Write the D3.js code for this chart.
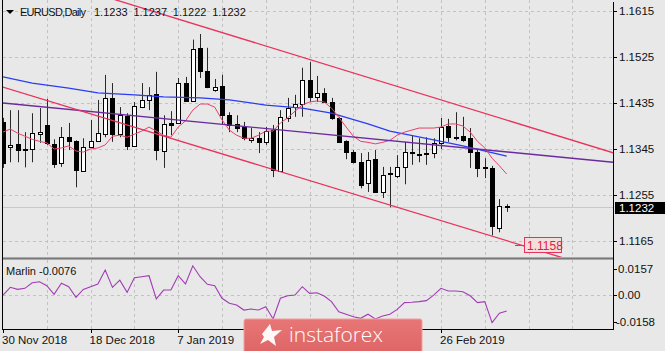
<!DOCTYPE html>
<html>
<head>
<meta charset="utf-8">
<script src="https://cdn.jsdelivr.net/npm/d3@7"></script>
<style>
  body { margin: 0; background: #e8e8e8; }
  svg { display: block; font-family: "Liberation Sans", Arial, sans-serif; }
</style>
</head>
<body>
<svg id="chart" width="665" height="351"></svg>
<script>
// header / labels
const symbolTitle = "EURUSD,Daily";
const lastQuote = ["1.1233", "1.1237", "1.1222", "1.1232"];
const marlinTitle = "Marlin -0.0076";
const priceTicks = [1.1615, 1.1525, 1.1435, 1.1345, 1.1255, 1.1165];
const marlinTicks = [0.0157, 0.0, -0.0158];
const marlinTickLabels = ["0.0157", "0.00", "-0.0158"];
const dateTickBars = [0, 12, 24, 60];
const dateTickLabels = ["30 Nov 2018", "18 Dec 2018", "7 Jan 2019", "26 Feb 2019"];
const currentPrice = 1.1232;
const channelLabel = 1.1158;

// daily candles, 30 Nov 2018 .. 11 Mar 2019
const openP = [1.1398,1.1349,1.1355,1.1345,1.1345,1.1376,1.1392,1.1355,1.1318,1.1368,
  1.1360,1.1302,1.1349,1.1360,1.1374,1.1445,1.1374,1.1409,1.1351,1.1427,
  1.1441,1.1453,1.1341,1.1395,1.1396,1.1474,1.1439,1.1543,1.1498,1.1460,
  1.1468,1.1411,1.1394,1.1388,1.1362,1.1366,1.1358,1.1382,1.1302,1.1405,
  1.1427,1.1433,1.1480,1.1447,1.1455,1.1437,1.1406,1.1360,1.1339,1.1319,
  1.1278,1.1325,1.1261,1.1296,1.1292,1.1310,1.1340,1.1336,1.1335,1.1337,
  1.1357,1.1390,1.1369,1.1370,1.1366,1.1339,1.1309,1.1308,1.1190,1.1233];
const highP = [1.1406,1.1421,1.1421,1.1378,1.1415,1.1425,1.1443,1.1364,1.1388,1.1396,
  1.1362,1.1366,1.1402,1.1441,1.1490,1.1474,1.1427,1.1415,1.1437,1.1474,
  1.1466,1.1496,1.1411,1.1419,1.1484,1.1486,1.1559,1.1570,1.1543,1.1482,
  1.1490,1.1417,1.1411,1.1398,1.1386,1.1378,1.1388,1.1392,1.1421,1.1445,
  1.1451,1.1504,1.1515,1.1488,1.1464,1.1445,1.1408,1.1362,1.1343,1.1337,
  1.1339,1.1343,1.1310,1.1310,1.1333,1.1359,1.1372,1.1366,1.1368,1.1366,
  1.1406,1.1404,1.1417,1.1408,1.1386,1.1343,1.1327,1.1312,1.1247,1.1237];
const lowP = [1.1308,1.1319,1.1319,1.1309,1.1319,1.1357,1.1353,1.1308,1.1310,1.1343,
  1.1270,1.1300,1.1347,1.1359,1.1368,1.1359,1.1368,1.1343,1.1349,1.1425,
  1.1421,1.1323,1.1308,1.1372,1.1394,1.1437,1.1437,1.1484,1.1464,1.1457,
  1.1392,1.1378,1.1378,1.1362,1.1357,1.1337,1.1353,1.1290,1.1300,1.1398,
  1.1408,1.1408,1.1437,1.1437,1.1436,1.1402,1.1359,1.1325,1.1317,1.1268,
  1.1261,1.1259,1.1249,1.1231,1.1288,1.1276,1.1314,1.1319,1.1314,1.1327,
  1.1345,1.1359,1.1362,1.1359,1.1308,1.1290,1.1288,1.1176,1.1182,1.1222];
const closeP = [1.1317,1.1353,1.1343,1.1343,1.1376,1.1379,1.1357,1.1316,1.1368,1.1360,
  1.1304,1.1349,1.1360,1.1376,1.1445,1.1374,1.1411,1.1351,1.1429,1.1441,
  1.1451,1.1343,1.1394,1.1392,1.1474,1.1439,1.1541,1.1498,1.1466,1.1466,
  1.1411,1.1392,1.1386,1.1366,1.1366,1.1358,1.1380,1.1304,1.1408,1.1425,
  1.1433,1.1480,1.1447,1.1455,1.1437,1.1406,1.1360,1.1339,1.1319,1.1274,
  1.1323,1.1261,1.1294,1.1298,1.1310,1.1339,1.1338,1.1335,1.1337,1.1357,
  1.1388,1.1368,1.1367,1.1362,1.1339,1.1308,1.1307,1.1194,1.1233,1.1232];

// fast moving average (red)
const fastMA = [1.1378,1.1384,1.1376,1.1370,1.1364,1.1360,1.1357,1.1345,1.1347,1.1351,
  1.1341,1.1339,1.1345,1.1347,1.1353,1.1370,1.1372,1.1368,1.1374,1.1380,
  1.1388,1.1380,1.1372,1.1368,1.1388,1.1400,1.1421,1.1433,1.1433,1.1427,
  1.1402,1.1382,1.1372,1.1366,1.1366,1.1372,1.1380,1.1380,1.1396,1.1406,
  1.1419,1.1431,1.1437,1.1439,1.1437,1.1425,1.1407,1.1388,1.1370,1.1360,
  1.1358,1.1355,1.1358,1.1362,1.1372,1.1378,1.1382,1.1386,1.1386,1.1386,
  1.1388,1.1394,1.1394,1.1390,1.1378,1.1360,1.1347,1.1327,1.1312,1.1296];

// slow moving average (blue), read at these bars
const slowMABars = [0, 4, 9, 13, 18, 22, 27, 31, 36, 41, 45, 50, 53, 59, 63, 69];
const slowMA = [1.1486,1.1474,1.1464,1.1455,1.1451,1.1447,1.1445,1.1441,1.1431,1.1425,
  1.1415,1.1394,1.1380,1.1363,1.1351,1.1331];

// trend lines: [bar, price] pairs
const purpleLine = [[0, 1.1435], [83.6, 1.1319]];
const channelUpper = [[27, 1.1586], [68, 1.1406]];
const channelLower = [[0, 1.1466], [68, 1.1170]];

// Marlin oscillator
const marlin = [0.0002,0.0048,0.0036,0.0042,0.0075,0.0081,0.0058,0.0007,0.0072,0.0052,
  -0.0011,0.0036,0.0052,0.0068,0.0151,0.0048,0.0091,0.0018,0.0105,0.0111,
  0.0117,-0.0021,0.0032,0.0032,0.0117,0.0068,0.0176,0.0111,0.0066,0.0058,
  -0.0017,-0.0047,-0.0057,-0.0087,-0.0081,-0.0087,-0.0067,-0.0140,-0.0017,-0.0002,
  0.0002,0.0052,0.0012,0.0016,-0.0004,-0.0037,-0.0097,-0.0112,-0.0127,-0.0136,
  -0.0112,-0.0140,-0.0122,-0.0112,-0.0083,-0.0043,-0.0041,-0.0037,-0.0031,0.0002,
  0.0042,0.0026,0.0026,0.0022,-0.0002,-0.0043,-0.0037,-0.0162,-0.0106,-0.0093];

const left = 3, right = 613, mainBottom = 258, subTop = 260, subBottom = 329;

const svg = d3.select("#chart");

const x = d3.scaleLinear().domain([0, 69]).range([3, 506.7]);
const y = d3.scaleLinear().domain([1.1165, 1.1615]).range([241, 11]);
const ySub = d3.scaleLinear().domain([-0.0158, 0.0157]).range([322, 269]);
const crisp = v => Math.round(v) + 0.5;

svg.append("rect").attr("width", 665).attr("height", 351).attr("fill", "#e8e8e8");

svg.append("defs").append("clipPath").attr("id", "mainClip")
  .append("rect").attr("x", left).attr("y", 0).attr("width", right - left).attr("height", mainBottom);

// grid
const grid = svg.append("g").attr("stroke", "#c2c2c2").attr("stroke-dasharray", "3,3");
d3.range(6, 84, 6).forEach(b => {
  grid.append("line").attr("x1", crisp(x(b))).attr("x2", crisp(x(b))).attr("y1", 0).attr("y2", mainBottom);
  grid.append("line").attr("x1", crisp(x(b))).attr("x2", crisp(x(b))).attr("y1", subTop).attr("y2", subBottom);
});
priceTicks.forEach(p => {
  grid.append("line").attr("x1", left).attr("x2", right).attr("y1", crisp(y(p))).attr("y2", crisp(y(p)));
});
grid.append("line").attr("x1", left).attr("x2", right).attr("y1", crisp(ySub(0))).attr("y2", crisp(ySub(0)));

// current price line
svg.append("line").attr("x1", left).attr("x2", right)
  .attr("y1", crisp(y(currentPrice))).attr("y2", crisp(y(currentPrice)))
  .attr("stroke", "#c8c8c8");

const main = svg.append("g").attr("clip-path", "url(#mainClip)");

// candles
const candles = openP.map((o, i) => ({ i, o, h: highP[i], l: lowP[i], c: closeP[i] }));
const cg = main.selectAll(".candle").data(candles).enter().append("g").attr("class", "candle");
cg.append("line")
  .attr("x1", d => crisp(x(d.i))).attr("x2", d => crisp(x(d.i)))
  .attr("y1", d => y(d.h)).attr("y2", d => y(d.l))
  .attr("stroke", "#2a2a2a");
cg.append("rect")
  .attr("x", d => Math.round(x(d.i)) - 2 + 0.5)
  .attr("width", 4)
  .attr("y", d => Math.round(y(Math.max(d.o, d.c))) + 0.5)
  .attr("height", d => Math.max(Math.round(Math.abs(y(d.o) - y(d.c))), 0))
  .attr("fill", d => d.c >= d.o ? "#ffffff" : "#000000")
  .attr("stroke", "#000");

// moving averages
main.append("path").datum(slowMA)
  .attr("fill", "none").attr("stroke", "#2b3cf5").attr("stroke-width", 1.3)
  .attr("d", d3.line().x((d, k) => x(slowMABars[k])).y(d => y(d)));
main.append("path").datum(fastMA)
  .attr("fill", "none").attr("stroke", "#e8406a").attr("stroke-width", 1)
  .attr("d", d3.line().x((d, i) => x(i)).y(d => y(d)));

// trend lines, extended across the panel
const extend = (pts, b0, b1) => {
  const slope = (pts[1][1] - pts[0][1]) / (pts[1][0] - pts[0][0]);
  return [[b0, pts[0][1] + slope * (b0 - pts[0][0])], [b1, pts[0][1] + slope * (b1 - pts[0][0])]];
};
const seg = d3.line().x(d => x(d[0])).y(d => y(d[1]));
main.append("path").attr("d", seg(purpleLine))
  .attr("fill", "none").attr("stroke", "#6b2a9e").attr("stroke-width", 1.4);
[channelUpper, channelLower].forEach(ch => {
  main.append("path").attr("d", seg(extend(ch, -1, 84)))
    .attr("fill", "none").attr("stroke", "#e8325c").attr("stroke-width", 1.3);
});

// 1.1158 marker
const lblY = y(channelLabel);
svg.append("line").attr("x1", 515).attr("x2", 524).attr("y1", crisp(lblY)).attr("y2", crisp(lblY))
  .attr("stroke", "#e8325c");
svg.append("rect").attr("x", 524.5).attr("y", Math.round(lblY) - 7.5).attr("width", 37).attr("height", 15)
  .attr("fill", "#f3dede").attr("stroke", "#e8325c");
svg.append("text").attr("x", 527).attr("y", Math.round(lblY) + 4.5)
  .attr("font-size", 12).attr("fill", "#e0203c").text(channelLabel.toFixed(4));

// frame
svg.append("line").attr("x1", 2.5).attr("x2", 2.5).attr("y1", 0).attr("y2", subBottom).attr("stroke", "#000");
svg.append("line").attr("x1", right + 0.5).attr("x2", right + 0.5).attr("y1", 2).attr("y2", subBottom + 1).attr("stroke", "#000");
svg.append("rect").attr("x", left).attr("y", 257).attr("width", right - left).attr("height", 3).attr("fill", "#a8a8a8");
svg.append("line").attr("x1", left).attr("x2", right).attr("y1", 258.5).attr("y2", 258.5).attr("stroke", "#7a7a7a");
svg.append("line").attr("x1", 2).attr("x2", right + 1).attr("y1", subBottom + 0.5).attr("y2", subBottom + 0.5).attr("stroke", "#000");

// right price axis
const axisG = svg.append("g").attr("font-size", 11.5).attr("fill", "#111");
priceTicks.forEach(p => {
  axisG.append("line").attr("x1", right).attr("x2", right + 4)
    .attr("y1", crisp(y(p))).attr("y2", crisp(y(p))).attr("stroke", "#000");
  axisG.append("text").attr("x", 619).attr("y", y(p) + 4).text(p.toFixed(4));
});
marlinTicks.forEach((v, k) => {
  axisG.append("line").attr("x1", right).attr("x2", right + 4)
    .attr("y1", crisp(ySub(v))).attr("y2", crisp(ySub(v))).attr("stroke", "#000");
  axisG.append("text").attr("x", v < 0 ? 616 : 618).attr("y", ySub(v) + 4).text(marlinTickLabels[k]);
});

// current price tag
svg.append("rect").attr("x", 615).attr("y", Math.round(y(currentPrice)) - 5).attr("width", 50).attr("height", 12)
  .attr("fill", "#000");
svg.append("text").attr("x", 619).attr("y", y(currentPrice) + 5)
  .attr("font-size", 11.5).attr("fill", "#fff").text(currentPrice.toFixed(4));

// Marlin sub window
svg.append("path").datum(marlin)
  .attr("fill", "none").attr("stroke", "#a23cb4").attr("stroke-width", 1.1)
  .attr("d", d3.line().x((d, i) => x(i)).y(d => ySub(d)));
svg.append("text").attr("x", 6).attr("y", 275).attr("font-size", 11).attr("fill", "#111").text(marlinTitle);

// title
svg.append("path").attr("d", "M6,10 L14,10 L10,14 Z").attr("fill", "#000");
const titleG = svg.append("g").attr("font-size", 11).attr("fill", "#111");
titleG.append("text").attr("x", 20).attr("y", 16).attr("textLength", 66).text(symbolTitle);
lastQuote.forEach((q, k) => titleG.append("text").attr("x", 94 + k * 39.4).attr("y", 16).text(q));

// time axis
dateTickBars.forEach((b, k) => {
  svg.append("line").attr("x1", crisp(x(b))).attr("x2", crisp(x(b)))
    .attr("y1", subBottom).attr("y2", subBottom + 4).attr("stroke", "#000");
  svg.append("text").attr("x", x(b) - 1).attr("y", 344)
    .attr("font-size", 11.5).attr("fill", "#111").text(dateTickLabels[k]);
});

// watermark
const grad = svg.select("defs").append("linearGradient").attr("id", "wm")
  .attr("x1", 0).attr("x2", 0).attr("y1", 0).attr("y2", 1);
grad.append("stop").attr("offset", 0).attr("stop-color", "#e87676");
grad.append("stop").attr("offset", 1).attr("stop-color", "#dc6262");
const wm = svg.append("g");
wm.append("rect").attr("x", 244).attr("y", 319).attr("width", 178).attr("height", 40).attr("rx", 2)
  .attr("fill", "url(#wm)").attr("stroke", "#f0a0a0");
wm.append("path")
  .attr("d", "M262,334 L270,324 L272,331 L282,330 L274,337 L276,346 L268,340 L260,344 L264,337 Z")
  .attr("fill", "#fff").attr("opacity", 0.95);
wm.append("text").attr("x", 289).attr("y", 342)
  .attr("font-family", "'Open Sans', sans-serif").attr("font-weight", 300)
  .attr("font-size", 21).attr("fill", "#fff").text("instaforex");
</script>
</body>
</html>
